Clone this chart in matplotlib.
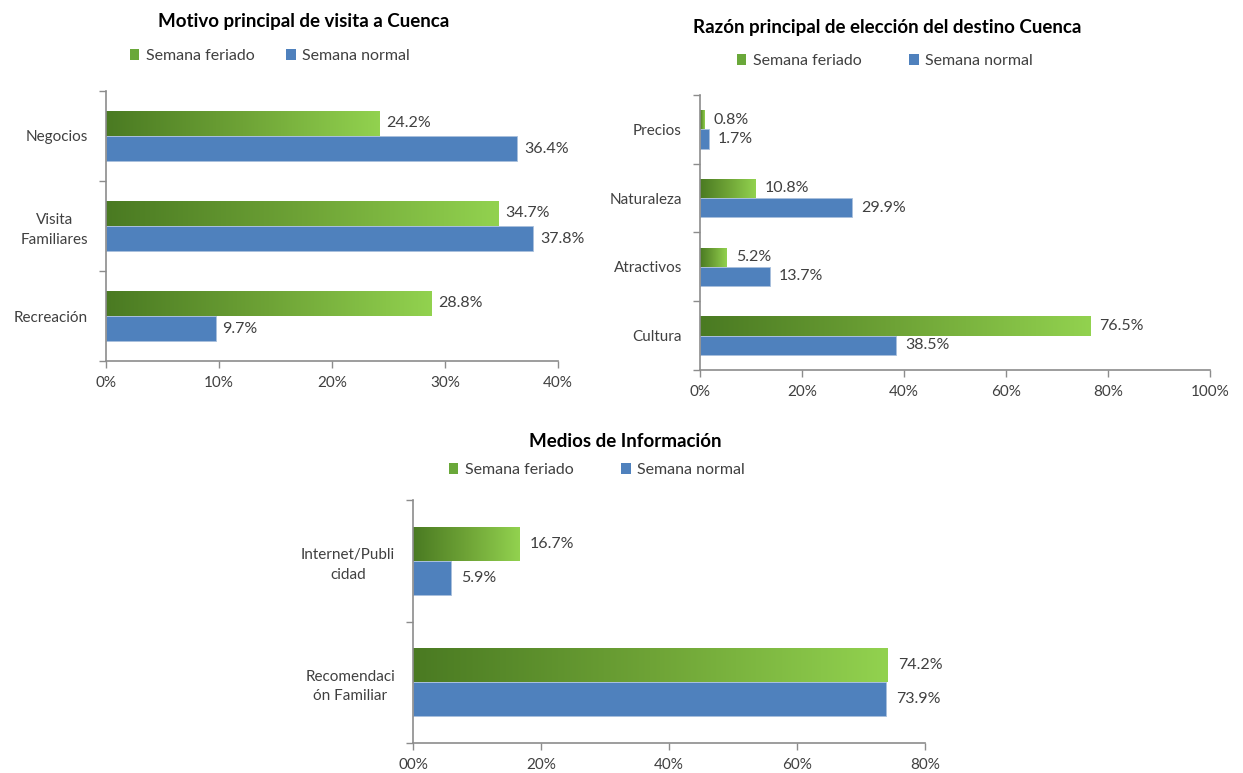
import matplotlib.pyplot as plt
import numpy as np
from matplotlib.colors import LinearSegmentedColormap
from matplotlib.patches import Patch

plt.rcParams['font.family'] = ['Lato', 'DejaVu Sans']

# datos
motivo_cats = ["Negocios", "Visita\nFamiliares", "Recreación"]
motivo_feriado = [24.2, 34.7, 28.8]
motivo_normal = [36.4, 37.8, 9.7]

razon_cats = ["Precios", "Naturaleza", "Atractivos", "Cultura"]
razon_feriado = [0.8, 10.8, 5.2, 76.5]
razon_normal = [1.7, 29.9, 13.7, 38.5]

medios_cats = ["Internet/Publi\ncidad", "Recomendaci\nón Familiar"]
medios_feriado = [16.7, 74.2]
medios_normal = [5.9, 73.9]

ticks1 = [0, 10, 20, 30, 40]
labels1 = ["0%", "10%", "20%", "30%", "40%"]
ticks2 = [0, 20, 40, 60, 80, 100]
labels2 = ["0%", "20%", "40%", "60%", "80%", "100%"]
ticks3 = [0, 20, 40, 60, 80]
labels3 = ["00%", "20%", "40%", "60%", "80%"]

W, H = 1243, 773
fig = plt.figure(figsize=(12.43, 7.73), dpi=100)

green_cmap = LinearSegmentedColormap.from_list("g", ["#4a7a22", "#6ea336", "#92d24f"])
blue = "#4f81bd"
axis_col = "#8c8c8c"
txt_col = "#404040"
grad = np.linspace(0, 1, 256).reshape(1, -1)
fs = 11


def px_axes(x0, y0, x1, y1):
    return fig.add_axes([x0 / W, 1 - y1 / H, (x1 - x0) / W, (y1 - y0) / H])


def draw_chart(ax, cats, feriado, normal, ticks, tlabels, xmax, off):
    n = len(cats)
    pos = np.arange(n) + 0.5
    h = 0.28
    gbars = ax.barh(pos - h / 2, feriado, height=h, color="none", edgecolor="none")
    for b in gbars:
        x, y, w, hh = b.get_x(), b.get_y(), b.get_width(), b.get_height()
        im = ax.imshow(grad, cmap=green_cmap, aspect="auto",
                       extent=[x, x + w, y, y + hh], zorder=2)
        im.set_clip_path(b)
    ax.barh(pos + h / 2, normal, height=h, color=blue, edgecolor="#a9c0dc",
            linewidth=0.6, zorder=2)
    for p, v in zip(pos, feriado):
        ax.text(v + off, p - h / 2, f"{v:.1f}%", va="center", ha="left",
                fontsize=fs + 0.5, color=txt_col)
    for p, v in zip(pos, normal):
        ax.text(v + off, p + h / 2, f"{v:.1f}%", va="center", ha="left",
                fontsize=fs + 0.5, color=txt_col)
    ax.set_xlim(0, xmax)
    ax.set_ylim(n, 0)
    ax.set_yticks(pos)
    ax.set_yticklabels(cats, fontsize=fs, color=txt_col, multialignment="center",
                       linespacing=1.5)
    ax.set_yticks(np.arange(n + 1), minor=True)
    ax.tick_params(axis="y", which="major", length=0, pad=13)
    ax.tick_params(axis="y", which="minor", length=5, color=axis_col, width=1)
    ax.set_xticks(ticks)
    ax.set_xticklabels(tlabels, fontsize=fs, color=txt_col)
    ax.tick_params(axis="x", length=5, color=axis_col, width=1, pad=6)
    for s in ["top", "right"]:
        ax.spines[s].set_visible(False)
    for s in ["left", "bottom"]:
        ax.spines[s].set_color(axis_col)
        ax.spines[s].set_linewidth(1.2)


def legend_at(ax, cx, cy, gap):
    handles = [Patch(facecolor="#6aa83a", edgecolor="none", label="Semana feriado"),
               Patch(facecolor=blue, edgecolor="none", label="Semana normal")]
    ax.legend(handles=handles, loc="center", bbox_to_anchor=(cx / W, 1 - cy / H),
              bbox_transform=fig.transFigure, ncol=2, frameon=False,
              handlelength=0.6, handleheight=0.7, handletextpad=0.4,
              columnspacing=gap, fontsize=fs + 0.5, labelcolor=txt_col)


ax1 = px_axes(106, 91, 558, 361)
draw_chart(ax1, motivo_cats, motivo_feriado, motivo_normal, ticks1, labels1, 40, 0.6)
fig.text(304 / W, 1 - 22 / H, "Motivo principal de visita a Cuenca", ha="center",
         va="center", fontsize=13.5, fontweight="bold")
legend_at(ax1, 270, 56, 2.0)

ax2 = px_axes(700, 95, 1210, 370)
draw_chart(ax2, razon_cats, razon_feriado, razon_normal, ticks2, labels2, 100, 1.8)
fig.text(887 / W, 1 - 27 / H, "Razón principal de elección del destino Cuenca", ha="center",
         va="center", fontsize=13.5, fontweight="bold")
legend_at(ax2, 885, 61, 3.0)

ax3 = px_axes(413, 500, 925, 743)
draw_chart(ax3, medios_cats, medios_feriado, medios_normal, ticks3, labels3, 80, 1.6)
fig.text(625 / W, 1 - 441 / H, "Medios de Información", ha="center",
         va="center", fontsize=13.5, fontweight="bold")
legend_at(ax3, 597, 470, 3.0)

fig.savefig("out.png", dpi=100)
